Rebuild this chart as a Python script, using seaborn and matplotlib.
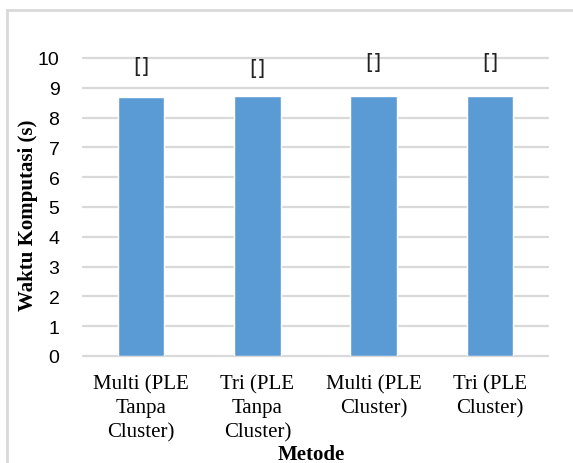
import matplotlib
matplotlib.use("Agg")
import matplotlib.pyplot as plt
from matplotlib.patches import Rectangle
import seaborn as sns
import pandas as pd

# Computation time per method
metode = ["Multi (PLE\nTanpa\nCluster)", "Tri (PLE\nTanpa\nCluster)",
          "Multi (PLE\nCluster)", "Tri (PLE\nCluster)"]
waktu = [8.70, 8.71, 8.72, 8.73]
label_teks = ["[]", "[]", "[]", "[]"]
yticks = [0, 1, 2, 3, 4, 5, 6, 7, 8, 9, 10]

# label offsets above the bar tops (points)
label_offset = [22, 20.5, 24.5, 24.5]

sns.set_theme(style="white")
plt.rcParams["font.family"] = ["Liberation Serif", "DejaVu Serif"]

df = pd.DataFrame({"Metode": metode, "Waktu": waktu})

fig = plt.figure(figsize=(5.73, 4.64), dpi=100)
ax = fig.add_axes([83 / 573, 1 - 357 / 464, 465 / 573, 298 / 464])

sns.barplot(data=df, x="Metode", y="Waktu", color="#5B9BD5", saturation=1,
            width=0.4, ax=ax, zorder=3)

ax.set_xlim(-0.5, 3.5)
ax.set_ylim(0, 10)
ax.set_yticks(yticks)
ax.set_yticklabels([str(t) for t in yticks], family="Liberation Sans",
                   fontsize=14, color="#000000")
ax.tick_params(axis="y", length=0, pad=17)
ax.tick_params(axis="x", length=0, pad=13, labelsize=15, labelcolor="#000000")
for lbl in ax.get_xticklabels():
    lbl.set_linespacing(1.34)
ax.yaxis.grid(True, color="#d9d9d9", linewidth=1.6, zorder=0)
for gl in ax.get_ygridlines():
    gl.set_clip_on(False)
for s in ax.spines.values():
    s.set_visible(False)

for i, (v, t) in enumerate(zip(waktu, label_teks)):
    ax.annotate(t, xy=(i, v), xytext=(0, label_offset[i]),
                textcoords="offset points", ha="center", va="center",
                family="DejaVu Sans", fontsize=15, color="#222222")

ax.set_xlabel("Metode", fontsize=15, fontweight="bold", color="#000000")
ax.xaxis.set_label_coords(0.491, -0.296)
ax.set_ylabel("Waktu Komputasi (s)", fontsize=15, fontweight="bold",
              color="#000000")
ax.yaxis.set_label_coords(-0.097, 0.477)

# light frame around the chart area
fig.patches.append(Rectangle((7 / 573, -0.1), 1.2, 1 - 10.5 / 464 + 0.1,
                             transform=fig.transFigure, fill=False,
                             edgecolor="#d9d9d9", linewidth=2))

fig.savefig("out.png", dpi=100)
